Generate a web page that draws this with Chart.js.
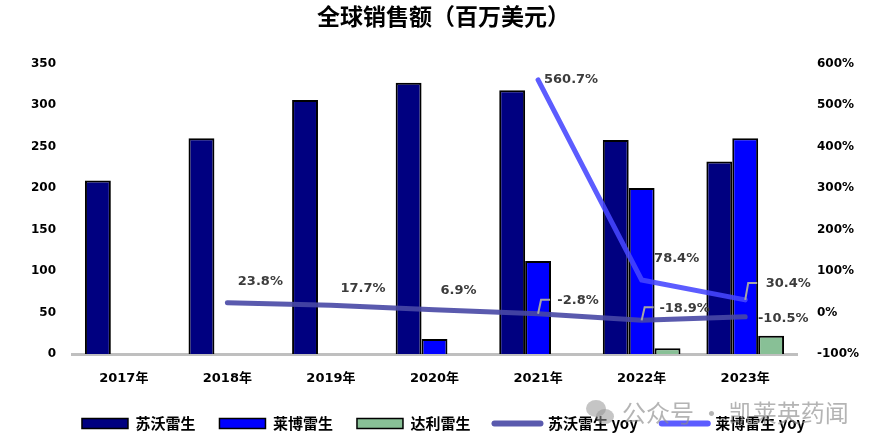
<!DOCTYPE html>
<html>
<head>
<meta charset="utf-8">
<script src="https://cdn.jsdelivr.net/npm/chart.js@4.4.0/dist/chart.umd.min.js"></script>
<style>
  html, body { margin: 0; padding: 0; background: #fff; }
  #wrap { position: relative; width: 877px; height: 448px; }
  #mark { position: absolute; left: 586px; top: 394px; color: rgba(140,140,140,0.65);
          font: 24px "Noto Sans CJK SC", sans-serif; white-space: nowrap; pointer-events: none; }
  #mark .ico { display: inline-block; position: relative; width: 30px; height: 26px; vertical-align: -4px; margin-right: 6px; }
  #mark .ico i { position: absolute; border-radius: 50%; background: rgba(150,150,150,0.55); }
</style>
</head>
<body>
<div id="wrap">
  <canvas id="myChart" width="877" height="448"></canvas>
  <div id="mark"><span class="ico"><i style="left:0;top:0;width:20px;height:17px"></i><i style="left:10px;top:9px;width:18px;height:15px"></i></span>公众号 · 凯莱英药闻</div>
</div>
<script>
const years = ['2017年', '2018年', '2019年', '2020年', '2021年', '2022年', '2023年'];
const suvorexant = [209, 260, 306, 327, 318, 258, 232];
const lemborexant = [null, null, null, 18, 112, 200, 260];
const daridorexant = [null, null, null, null, null, 7, 22];
const suvorexantYoy = [null, 23.8, 17.7, 6.9, -2.8, -18.9, -10.5];
const lemborexantYoy = [null, null, null, null, 560.7, 78.4, 30.4];
const leftTicks = [0, 50, 100, 150, 200, 250, 300, 350];
const rightTicks = [-100, 0, 100, 200, 300, 400, 500, 600];

// where each yoy label sits relative to its point, and whether it gets a leader line
const labelOffsets = {
    3: [null, [33, -21], [32, -17], [24, -19], [40, -13], [43, -12], [38, 2]],
    4: [null, null, null, null, [33, 0], [35, -21], [43, -16]]
};
const leaders = { '3-4': true, '3-5': true, '4-6': true };

const yoyLabels = {
    id: 'yoyLabels',
    afterDatasetsDraw(chart) {
        const ctx = chart.ctx;
        ctx.save();
        ctx.font = 'bold 13px "DejaVu Sans", sans-serif';
        ctx.textAlign = 'center';
        ctx.textBaseline = 'middle';
        [3, 4].forEach(di => {
            const meta = chart.getDatasetMeta(di);
            const values = chart.data.datasets[di].data;
            meta.data.forEach((pt, i) => {
                if (values[i] === null) return;
                const off = labelOffsets[di][i];
                if (leaders[di + '-' + i]) {
                    const dy = off[1] - 1;
                    ctx.strokeStyle = '#a6a6a6';
                    ctx.lineWidth = 2;
                    ctx.beginPath();
                    ctx.moveTo(pt.x, pt.y);
                    ctx.lineTo(pt.x + 3, pt.y + dy);
                    ctx.lineTo(pt.x + 12, pt.y + dy);
                    ctx.stroke();
                }
                ctx.fillStyle = '#3c3c3c';
                ctx.fillText(values[i].toFixed(1) + '%', pt.x + off[0], pt.y + off[1]);
            });
        });
        ctx.restore();
    }
};

const barBase = { borderColor: '#000', borderWidth: 2, borderSkipped: 'bottom',
    categoryPercentage: 0.75, barPercentage: 1, yAxisID: 'y', order: 2 };

new Chart(document.getElementById('myChart'), {
    type: 'bar',
    data: {
        labels: years,
        datasets: [
            Object.assign({ label: '苏沃雷生', data: suvorexant, backgroundColor: '#000080' }, barBase),
            Object.assign({ label: '莱博雷生', data: lemborexant, backgroundColor: '#0000ff' }, barBase),
            Object.assign({ label: '达利雷生', data: daridorexant, backgroundColor: '#88c096' }, barBase),
            {
                type: 'line', label: '苏沃雷生 yoy', data: suvorexantYoy, yAxisID: 'y1', order: 1,
                borderColor: 'rgba(72,72,165,0.9)', backgroundColor: 'rgba(72,72,165,0.9)',
                borderWidth: 5, pointRadius: 0, borderCapStyle: 'round', tension: 0
            },
            {
                type: 'line', label: '莱博雷生 yoy', data: lemborexantYoy, yAxisID: 'y1', order: 1,
                borderColor: 'rgba(70,70,255,0.88)', backgroundColor: 'rgba(70,70,255,0.88)',
                borderWidth: 5, pointRadius: 0, borderCapStyle: 'round', tension: 0
            }
        ]
    },
    plugins: [yoyLabels],
    options: {
        responsive: false,
        animation: false,
        layout: { padding: { left: 10, right: 0, top: 0, bottom: 7 } },
        plugins: {
            title: {
                display: true,
                text: '全球销售额（百万美元）',
                color: '#000',
                font: { family: '"Noto Sans CJK SC"', size: 23, weight: 'bold' },
                padding: { top: 2, bottom: 34 }
            },
            tooltip: { enabled: false },
            legend: {
                position: 'bottom',
                sort: (a, b) => a.datasetIndex - b.datasetIndex,
                labels: {
                    usePointStyle: true,
                    pointStyleWidth: 46,
                    boxHeight: 10,
                    padding: 24,
                    color: '#000',
                    font: { family: '"Noto Sans CJK SC"', size: 15, weight: 'bold' },
                    generateLabels(chart) {
                        return chart.data.datasets.map((ds, i) => {
                            const isLine = ds.type === 'line';
                            return {
                                text: ds.label,
                                datasetIndex: i,
                                fillStyle: ds.backgroundColor,
                                strokeStyle: isLine ? ds.borderColor : '#000',
                                lineWidth: isLine ? 6 : 1.5,
                                lineCap: 'round',
                                pointStyle: isLine ? 'line' : 'rect',
                                fontColor: '#000',
                                hidden: false
                            };
                        });
                    }
                }
            }
        },
        scales: {
            x: {
                grid: { display: false },
                border: { display: true, color: '#bfbfbf', width: 3 },
                afterFit: s => { s.height = 38; },
                ticks: { color: '#000', padding: 9,
                    font: { family: '"DejaVu Sans", "Noto Sans CJK SC"', size: 13, weight: 'bold' } }
            },
            y: {
                position: 'left',
                min: 0, max: 350,
                afterBuildTicks: s => { s.ticks = leftTicks.map(v => ({ value: v })); },
                afterFit: s => { s.width = 62; },
                grid: { display: false },
                border: { display: false },
                ticks: { color: '#000', padding: 8,
                    font: { family: '"DejaVu Sans"', size: 12, weight: 'bold' } }
            },
            y1: {
                position: 'right',
                min: -100, max: 600,
                afterBuildTicks: s => { s.ticks = rightTicks.map(v => ({ value: v })); },
                afterFit: s => { s.width = 80; },
                grid: { display: false },
                border: { display: false },
                ticks: { color: '#000', padding: 12, callback: v => v + '%',
                    font: { family: '"DejaVu Sans"', size: 12, weight: 'bold' } }
            }
        }
    }
});
</script>
</body>
</html>
